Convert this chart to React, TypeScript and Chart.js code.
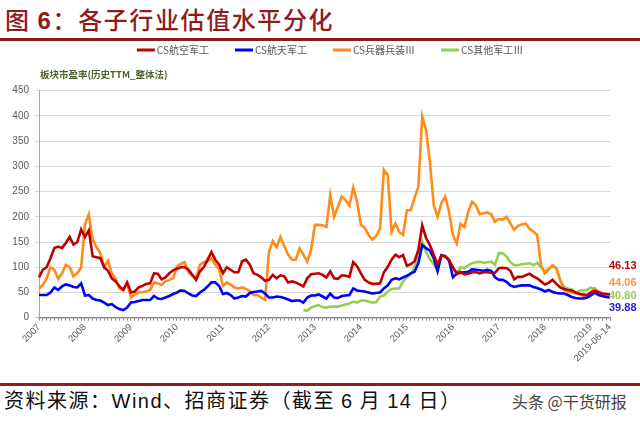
import React, { useEffect, useRef } from 'react';
import { Chart, registerables } from 'chart.js';

Chart.register(...registerables);

// ---------- data ----------
const START_YEAR = 2007;
const MONTHS = 150; // 2007-01 .. 2019-06
const LAST_LABEL = '2019-06-14';
const categories: string[] = Array.from(
  { length: MONTHS },
  (_, i) => `${START_YEAR + Math.floor(i / 12)}-${String((i % 12) + 1).padStart(2, '0')}`
);

const seriesNames = ['CS航空军工', 'CS航天军工', 'CS兵器兵装Ⅲ', 'CS其他军工Ⅲ'];
const subtitleText = '板块市盈率(历史TTM_整体法)';

const aviation = [
  80, 95, 100, 118, 138, 141, 138, 148, 160, 145, 150, 175,
  160, 173, 122, 120, 118, 100, 93, 78, 72, 62, 55, 70,
  50, 52, 60, 63, 67, 68, 88, 87, 76, 80, 88, 94,
  97, 100, 100, 95, 85, 75, 92, 100, 115, 130, 115, 105,
  88, 100, 95, 90, 90, 112, 115, 105, 88, 85, 80, 73,
  75, 85, 78, 84, 82, 70, 72, 70, 66, 62, 78, 86,
  87, 88, 85, 80, 92, 78, 77, 84, 83, 81, 110, 102,
  88, 75, 70, 67, 67, 68, 90, 101, 115, 125, 120, 124,
  103, 106, 112, 135, 183, 158, 144, 125, 106, 123, 122, 115,
  100, 88, 91, 86, 87, 90, 90, 88, 90, 90, 89, 89,
  98, 99, 98, 93, 76, 81, 81, 84, 87, 82, 78, 72,
  66, 69, 75, 67, 60, 57, 55, 54, 50, 47, 46, 45,
  50, 53, 51, 48, 47, 46.13,
];

const aerospace = [
  45, 45, 45, 50, 60, 55, 62, 66, 64, 61, 60, 68,
  44, 45, 38, 35, 34, 30, 25, 27, 21, 17, 15, 20,
  30, 31, 33, 35, 35, 35, 43, 38, 37, 40, 43, 47,
  50, 54, 53, 48, 44, 43, 50, 55, 62, 70, 70, 63,
  47, 49, 45, 38, 40, 43, 42, 49, 51, 52, 53, 48,
  40, 40, 42, 41, 39, 36, 33, 34, 34, 30, 40, 44,
  44, 46, 42, 38, 48, 40, 39, 43, 44, 45, 58, 54,
  53, 52, 50, 48, 49, 50, 58, 64, 75, 78, 76, 80,
  83, 88, 91, 108, 144, 138, 133, 118, 92, 124, 121, 114,
  80, 87, 89, 90, 91, 96, 95, 94, 93, 95, 93, 80,
  75, 75, 71, 64, 61, 63, 64, 64, 64, 61, 59, 56,
  52, 55, 51, 49, 48, 48, 45, 41, 39, 38, 38, 40,
  44, 50, 45, 43, 41, 39.88,
];

const ordnance = [
  57, 65, 78, 100, 95, 77, 88, 105, 100, 82, 88, 100,
  185, 205, 155, 140, 128, 100, 113, 88, 78, 58, 55, 68,
  40, 46, 50, 51, 52, 55, 70, 68, 65, 72, 75, 78,
  102, 107, 110, 90, 83, 80, 105, 110, 112, 117, 105, 96,
  63, 70, 65, 60, 58, 60, 57, 53, 45, 45, 40, 35,
  130, 152, 140, 160, 142, 125, 115, 115, 137, 125, 111, 135,
  184, 184, 183, 180, 243, 200, 220, 240, 233, 222, 258, 230,
  184, 178, 164, 155, 162, 177, 293, 283, 170, 187, 170, 164,
  213, 213, 237, 260, 399, 372, 310, 223, 200, 227, 240, 210,
  164, 147, 186, 180, 210, 230, 223, 205, 207, 209, 205, 190,
  196, 194, 200, 187, 174, 182, 185, 187, 176, 171, 164, 104,
  88, 95, 104, 98, 75, 56, 52, 50, 49, 48, 43, 42,
  50, 58, 50, 46, 45, 44.06,
];

// 其他军工 starts in 2012-10 (index 69)
const OTHER_START = 69;
const otherValues = [
  15, 14, 20,
  23, 25, 21, 20, 22, 22, 22, 24, 26, 28, 32, 30,
  34, 34, 32, 30, 31, 42, 44, 52, 57, 58, 58, 72,
  80, 86, 100, 125, 152, 130, 116, 106, 95, 124, 123, 112,
  98, 87, 100, 98, 104, 108, 110, 111, 109, 110, 111, 105,
  128, 128, 121, 110, 104, 104, 106, 107, 108, 104, 109, 100,
  91, 98, 102, 98, 74, 61, 58, 56, 48, 54, 54, 55,
  60, 56, 50, 46, 43, 40.8,
];
const other: (number | null)[] = (new Array(OTHER_START).fill(null) as (number | null)[]).concat(otherValues);

const yTicks = { min: 0, max: 450, step: 50 };

// ---------- styles ----------
const COLORS = ['#C00000', '#0000FF', '#FF8C1A', '#92D050'];
const LABEL_COLORS = ['#C00000', '#2020D0', '#F79646', '#92D050'];
const END_OFFSETS = [-28, 10.5, -12.5, -1];

const CANVAS_TOP = 35;
const CANVAS_W = 640;
const CANVAS_H = 345;
const AREA = { left: 39, right: 610, top: 90.7 - CANVAS_TOP, bottom: 317.7 - CANVAS_TOP };
const LEGEND = { centerX: 330, y: 50 - CANVAS_TOP, lineW: 18, gap: 2, itemGap: 26 };
const LEGEND_FONT = "10px 'Noto Sans CJK SC', sans-serif";

const endLabelPlugin = {
  id: 'endLabels',
  afterDatasetsDraw(chart: any) {
    const { ctx, chartArea, scales } = chart;
    ctx.save();
    ctx.font = "bold 11px 'Liberation Sans Narrow', 'Liberation Sans', Arial, sans-serif";
    ctx.textAlign = 'left';
    ctx.textBaseline = 'middle';
    chart.data.datasets.forEach((ds: any, i: number) => {
      const v = ds.data[ds.data.length - 1];
      if (v == null) return;
      const y = scales.y.getPixelForValue(v) + END_OFFSETS[i];
      ctx.fillStyle = LABEL_COLORS[i];
      ctx.fillText(v.toFixed(2), chartArea.right - 1, y);
    });
    ctx.restore();
  },
};

const headerPlugin = {
  id: 'header',
  afterDraw(chart: any) {
    const { ctx, chartArea } = chart;
    ctx.save();
    // legend
    ctx.font = LEGEND_FONT;
    ctx.textBaseline = 'middle';
    ctx.textAlign = 'left';
    const ds = chart.data.datasets;
    const widths = ds.map((d: any) => LEGEND.lineW + LEGEND.gap + ctx.measureText(d.label).width);
    const total = widths.reduce((a: number, b: number) => a + b, 0) + LEGEND.itemGap * (ds.length - 1);
    let x = LEGEND.centerX - total / 2;
    ds.forEach((d: any, i: number) => {
      ctx.fillStyle = d.borderColor;
      ctx.fillRect(x, LEGEND.y - 1.5, LEGEND.lineW, 3);
      ctx.fillStyle = '#595959';
      ctx.fillText(d.label, x + LEGEND.lineW + LEGEND.gap, LEGEND.y);
      x += widths[i] + LEGEND.itemGap;
    });
    // axis subtitle
    ctx.font = "bold 9.5px 'Noto Sans CJK SC', sans-serif";
    ctx.fillStyle = '#4F6228';
    ctx.fillText(subtitleText, chartArea.left + 1, chartArea.top - 16);
    ctx.restore();
  },
};

export default function App() {
  const ref = useRef<HTMLCanvasElement | null>(null);

  useEffect(() => {
    if (!ref.current) return;
    const datasets = [aviation, aerospace, ordnance, other].map((d, i) => ({
      label: seriesNames[i],
      data: d,
      borderColor: COLORS[i],
      backgroundColor: COLORS[i],
      borderWidth: 2.6,
      pointRadius: 0,
      tension: 0,
      spanGaps: false,
    }));

    const options: any = {
      responsive: false,
      animation: false,
      devicePixelRatio: 1,
      layout: { padding: { left: 0, right: 30, top: AREA.top, bottom: 0 } },
      plugins: {
        legend: { display: false },
        tooltip: { enabled: false },
      },
      scales: {
        x: {
          type: 'category',
          grid: {
            display: true,
            drawOnChartArea: false,
            drawTicks: true,
            tickLength: 3,
            color: '#8C8C8C',
          },
          border: { display: true, color: '#8C8C8C', width: 1.5 },
          ticks: {
            autoSkip: false,
            maxRotation: 45,
            minRotation: 45,
            padding: 1,
            color: '#595959',
            font: { family: "'Liberation Sans', Arial, sans-serif", size: 9.5 },
            callback: (_v: any, index: number) => {
              if (index === MONTHS - 1) return LAST_LABEL;
              const lab = categories[index];
              return lab.endsWith('-01') ? lab.slice(0, 4) : '';
            },
          },
          afterFit: (scale: any) => {
            scale.height = CANVAS_H - AREA.bottom;
          },
        },
        y: {
          min: yTicks.min,
          max: yTicks.max,
          grid: { color: '#D9D9D9', lineWidth: 1, tickLength: 4 },
          border: { display: true, color: '#A6A6A6', width: 1 },
          ticks: {
            stepSize: yTicks.step,
            padding: 6,
            color: '#595959',
            font: { family: "'Liberation Sans', Arial, sans-serif", size: 10 },
          },
          afterFit: (scale: any) => {
            scale.width = AREA.left;
          },
        },
      },
    };

    const chart = new Chart(ref.current, {
      type: 'line',
      data: { labels: categories, datasets },
      options,
      plugins: [endLabelPlugin, headerPlugin],
    });

    // fine-tune chart area placement
    for (let k = 0; k < 3; k++) {
      const ca = chart.chartArea;
      const dTop = AREA.top - ca.top;
      const dRight = ca.right - AREA.right;
      if (Math.abs(dTop) < 0.3 && Math.abs(dRight) < 0.3) break;
      const o: any = chart.config.options;
      const p = o.layout.padding;
      o.layout.padding = { ...p, top: p.top + dTop, right: p.right + dRight };
      chart.update();
    }

    return () => chart.destroy();
  }, []);

  const latin = { fontFamily: "'Liberation Sans', Arial, sans-serif" };

  return (
    <div
      style={{
        position: 'fixed',
        left: 0,
        top: 0,
        width: 640,
        height: 422,
        background: '#fff',
        overflow: 'hidden',
        fontFamily: "'Noto Sans CJK SC', sans-serif",
      }}
    >
      <div
        style={{
          position: 'absolute',
          left: 5,
          top: 3,
          fontSize: 24,
          lineHeight: '32px',
          letterSpacing: '1.6px',
          color: '#8F1D1D',
          fontWeight: 500,
          whiteSpace: 'nowrap',
        }}
      >
        图 <span style={{ ...latin, fontWeight: 700 }}>6</span>：各子行业估值水平分化
      </div>
      <div style={{ position: 'absolute', left: 0, top: 38, width: 640, height: 3, background: '#8F1D1D', zIndex: 2 }} />
      <div style={{ position: 'absolute', left: 0, top: CANVAS_TOP, width: CANVAS_W, height: CANVAS_H }}>
        <canvas ref={ref} width={CANVAS_W} height={CANVAS_H} style={{ width: CANVAS_W, height: CANVAS_H, display: 'block' }} />
      </div>
      <div style={{ position: 'absolute', left: 0, top: 383, width: 640, height: 2.5, background: '#8F1D1D' }} />
      <div
        style={{
          position: 'absolute',
          left: 4,
          top: 386,
          fontSize: 20,
          lineHeight: '28px',
          letterSpacing: '1.5px',
          color: '#111',
          whiteSpace: 'nowrap',
        }}
      >
        资料来源：<span style={latin}>Wind</span>、招商证券（截至 <span style={latin}>6</span> 月 <span style={latin}>14</span> 日）
      </div>
      <div
        style={{
          position: 'absolute',
          left: 512,
          top: 390,
          fontSize: 16,
          lineHeight: '22px',
          color: '#444',
          whiteSpace: 'nowrap',
        }}
      >
        头条 @干货研报
      </div>
    </div>
  );
}
